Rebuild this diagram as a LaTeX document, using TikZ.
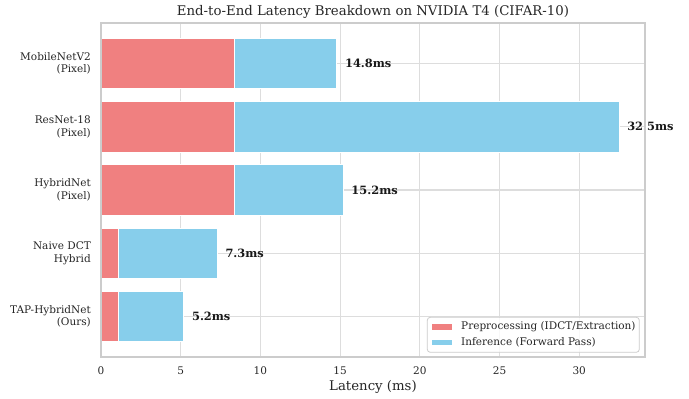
\documentclass[tikz,border=0pt]{standalone}
\usepackage{fontspec}
\setmainfont{DejaVu Serif}
\definecolor{pre}{HTML}{F08080}
\definecolor{inf}{HTML}{87CEEB}
\definecolor{gridc}{HTML}{DDDDDD}
\definecolor{spine}{HTML}{CCCCCC}
\definecolor{txt}{HTML}{262626}
\tikzset{
  gridline/.style={draw=gridc, line width=1.1pt},
  spineline/.style={draw=spine, line width=1.6pt},
  prebar/.style={fill=pre, draw=white, line width=0.9pt},
  infbar/.style={fill=inf, draw=white, line width=0.9pt},
  ticklab/.style={text=txt, font=\fontsize{10.5}{12.4}\selectfont, inner sep=0pt},
  ylab/.style={ticklab, anchor=east, align=right},
  vallab/.style={text=black!90, font=\fontsize{11.4}{13}\selectfont\bfseries, anchor=west, inner sep=0pt},
  legtext/.style={text=txt, font=\fontsize{10.5}{12}\selectfont, anchor=west, inner sep=0pt},
  bigtext/.style={text=txt, font=\fontsize{13.3}{15}\selectfont, inner sep=0pt},
}
\begin{document}
\begin{tikzpicture}[x=1pt,y=-1pt]
\useasboundingbox (0,0) rectangle (689,399);
\fill[white] (0,0) rectangle (689,399);
\begin{scope}[shift={(101,63.5)}, x=15.94pt, y=-63.26pt]
  % grid
  \foreach \v in {5,10,...,30} \draw[gridline] (\v,-0.64) -- (\v,4.64);
  \foreach \i in {0,...,4} \draw[gridline] (0,\i) -- (34.125,\i);
  % bars
  \foreach \i/\p/\t in {0/8.4/14.8, 1/8.4/32.5, 2/8.4/15.2, 3/1.1/7.3, 4/1.1/5.2} {
    \path[prebar] (0,\i-0.4) rectangle (\p,\i+0.4);
    \path[infbar] (\p,\i-0.4) rectangle (\t,\i+0.4);
    \node[vallab] (v\i) at ([xshift=8pt]\t,\i) {\t ms};
  }
  % spines
  \draw[spineline] (0,-0.64) rectangle (34.125,4.64);
  % y tick labels
  \node[ylab] (y0) at ([xshift=-10pt]0,0) {MobileNetV2\\(Pixel)};
  \node[ylab] (y1) at ([xshift=-10pt]0,1) {ResNet-18\\(Pixel)};
  \node[ylab] (y2) at ([xshift=-10pt]0,2) {HybridNet\\(Pixel)};
  \node[ylab] (y3) at ([xshift=-10pt]0,3) {Naive DCT\\Hybrid};
  \node[ylab] (y4) at ([xshift=-10pt]0,4) {TAP-HybridNet\\(Ours)};
  % x tick labels
  \foreach \v in {0,5,...,30} \node[ticklab] (x\v) at ([yshift=-14pt]\v,4.64) {\v};
\end{scope}
% title and axis label
\node[bigtext] (title) at (373,12) {End-to-End Latency Breakdown on NVIDIA T4 (CIFAR-10)};
\node[bigtext] (xlabel) at (373,386.5) {Latency (ms)};
% legend
\node[draw=spine, fill=white, fill opacity=0.8, rounded corners=3pt, line width=0.8pt, minimum width=212pt, minimum height=35pt, inner sep=0pt] (legend) at (533.3,334.8) {};
\fill[pre] (432,324) rectangle (452,330);
\fill[inf] (432,339.7) rectangle (452,345.4);
\node[legtext] (l1) at (461,326.8) {Preprocessing (IDCT/Extraction)};
\node[legtext] (l2) at (461,342.6) {Inference (Forward Pass)};
\end{tikzpicture}
\end{document}
